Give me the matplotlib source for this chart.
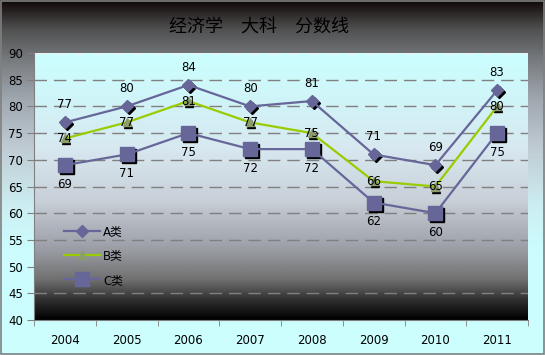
import numpy as np
import matplotlib.pyplot as plt
from matplotlib.colors import LinearSegmentedColormap
from matplotlib.transforms import offset_copy

plt.rcParams['font.family'] = ['DejaVu Sans', 'Noto Sans CJK SC']

years = ['2004', '2005', '2006', '2007', '2008', '2009', '2010', '2011']
a_vals = [77, 80, 84, 80, 81, 71, 69, 83]
b_vals = [74, 77, 81, 77, 75, 66, 65, 80]
c_vals = [69, 71, 75, 72, 72, 62, 60, 75]
title = '经济学\u3000大科\u3000分数线'

fig = plt.figure(figsize=(5.45, 3.55), dpi=100)

# figure background: dark at top, light cyan at bottom
bg = fig.add_axes([0, 0, 1, 1], zorder=-10)
fig_cmap = LinearSegmentedColormap.from_list('figbg', [
    (0.0, '#ccffff'), (0.3, '#ccfcfe'), (0.42, '#cceef2'), (0.58, '#c0ccd4'),
    (0.72, '#a0a8b0'), (0.83, '#787c80'), (0.92, '#505050'), (1.0, '#100808')])
bg.imshow(np.linspace(0, 1, 256).reshape(-1, 1), cmap=fig_cmap, origin='lower',
          extent=[0, 1, 0, 1], aspect='auto')
bg.set_xlim(0, 1)
bg.set_ylim(0, 1)
bg.axis('off')
bg.add_patch(plt.Rectangle((0.001, 0.002), 0.997, 0.995, fill=False, ec='#808080', lw=1.2))

ax = fig.add_axes([34 / 545, 35 / 355, 494 / 545, 267 / 355])
plot_cmap = LinearSegmentedColormap.from_list('plotbg', [
    (0.0, '#000000'), (0.075, '#303030'), (0.15, '#707070'), (0.26, '#9a9ca4'),
    (0.45, '#c8d0d8'), (0.64, '#d8e8f0'), (0.82, '#d0f4f8'), (1.0, '#ccffff')])
ax.imshow(np.linspace(0, 1, 256).reshape(-1, 1), cmap=plot_cmap, origin='lower',
          extent=[-0.5, 7.5, 40, 90], aspect='auto', zorder=0)

x = np.arange(len(years))
ax.set_xlim(-0.5, 7.5)
ax.set_ylim(40, 90)

for yv in range(45, 91, 5):
    ax.axhline(yv, color='#808080' if yv < 90 else '#f0f0f0', lw=1,
               dashes=(9, 5), zorder=1)

line_col = '#666699'
green = '#99cc00'

def shadow(dx=2, dy=-2):
    return offset_copy(ax.transData, fig=fig, x=dx, y=dy, units='dots')

# marker shadows
ax.plot(x, a_vals, 'D', ms=6, color='black', transform=shadow(), zorder=3)
ax.plot(x, b_vals, '^', ms=6, color='black', transform=shadow(1, -2), zorder=3)
ax.plot(x, c_vals, 's', ms=10, color='black', transform=shadow(), zorder=3)

la, = ax.plot(x, a_vals, '-D', color=line_col, lw=1.6, ms=6, mfc=line_col, mec=line_col,
              zorder=4, label='A类')
lb, = ax.plot(x, b_vals, '-^', color=green, lw=1.6, ms=6, mfc='#8c9c6c', mec='#8c9c6c',
              zorder=4, label='B类')
lc, = ax.plot(x, c_vals, '-s', color=line_col, lw=1.6, ms=10, mfc=line_col, mec=line_col,
              zorder=4, label='C类')

for xi, v in zip(x, a_vals):
    ax.annotate(str(v), (xi, v), xytext=(0, 8), textcoords='offset points',
                ha='center', va='bottom', fontsize=8.5, zorder=6)
for xi, v in zip(x, b_vals):
    ax.annotate(str(v), (xi, v), xytext=(0, 0), textcoords='offset points',
                ha='center', va='center', fontsize=8.5, zorder=6)
for xi, v in zip(x, c_vals):
    ax.annotate(str(v), (xi, v), xytext=(0, -9), textcoords='offset points',
                ha='center', va='top', fontsize=8.5, zorder=6)

ax.set_yticks(range(40, 91, 5))
ax.set_xticks(x)
ax.set_xticklabels(years)
ax.set_xticks(np.arange(-0.5, 8, 1), minor=True)
ax.tick_params(axis='x', which='major', length=0, pad=10, labelsize=8.5)
ax.tick_params(axis='x', which='minor', length=4, color='#808080')
ax.tick_params(axis='y', length=5, color='#808080', labelsize=8.5, pad=3)
for s in ['top', 'right']:
    ax.spines[s].set_visible(False)
for s in ['left', 'bottom']:
    ax.spines[s].set_color('#808080')
    ax.spines[s].set_zorder(5)

ax.legend(handles=[la, lb, lc], loc='upper left', bbox_to_anchor=(0.04, 0.395),
          frameon=False, handlelength=3, labelspacing=0.95, handletextpad=0.3,
          prop={'family': ['DejaVu Sans', 'Noto Sans CJK SC'], 'size': 8.5})

fig.text(259 / 545, 1 - 27 / 355, title, ha='center', va='center', fontsize=13,
         family=['Noto Sans CJK SC'], color='black')

fig.savefig('out.png', dpi=100)
